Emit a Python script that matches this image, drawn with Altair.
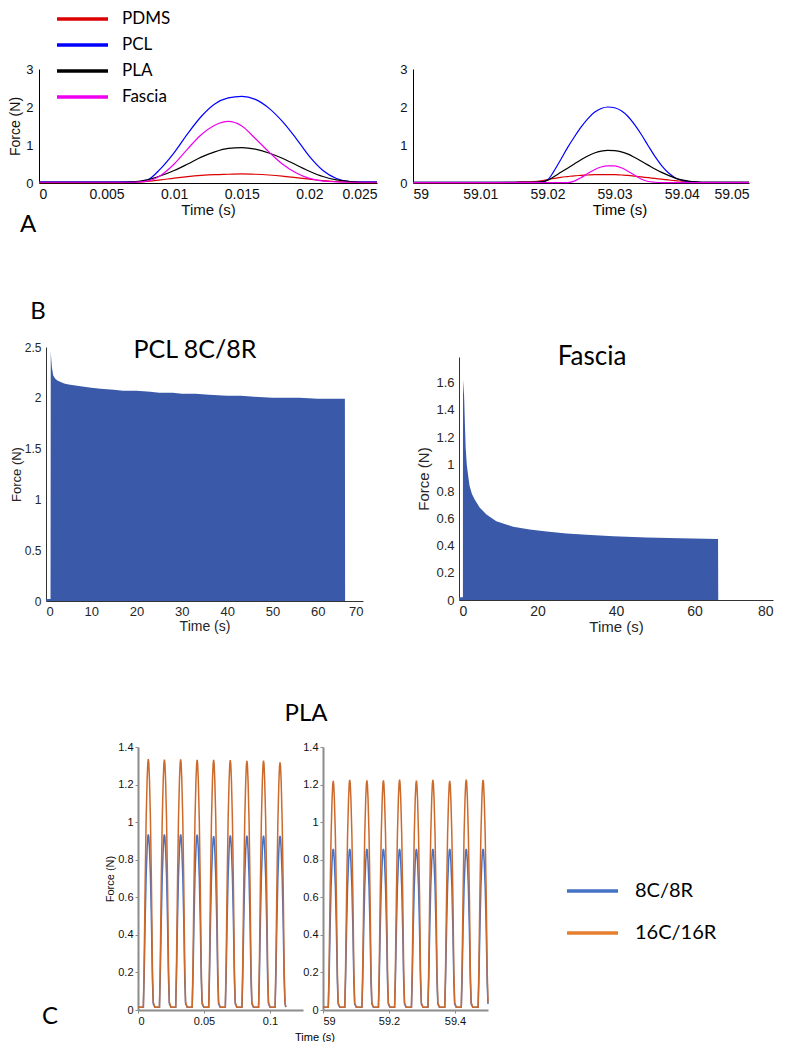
import altair as alt
import pandas as pd

# ---------------- data ----------------
A_SERIES = ["PDMS", "PCL", "PLA", "Fascia"]
A_COLORS = ["#dd0000", "#0000ff", "#000000", "#ee00ee"]

A1_TIME = [0.000, 0.001, 0.002, 0.003, 0.004, 0.005, 0.006, 0.007, 0.008, 0.009,
           0.010, 0.011, 0.012, 0.013, 0.014, 0.015, 0.016, 0.017, 0.018, 0.019,
           0.020, 0.021, 0.022, 0.023, 0.024, 0.025]
A1_PDMS = [0.01, 0.01, 0.01, 0.01, 0.01, 0.01, 0.01, 0.02, 0.04, 0.08, 0.13, 0.17, 0.20,
           0.22, 0.23, 0.24, 0.23, 0.21, 0.18, 0.14, 0.10, 0.06, 0.04, 0.02, 0.01, 0.01]
A1_PCL = [0.03, 0.03, 0.03, 0.03, 0.03, 0.03, 0.03, 0.03, 0.08, 0.38, 0.80, 1.30, 1.75,
          2.08, 2.24, 2.28, 2.20, 1.97, 1.62, 1.18, 0.70, 0.33, 0.12, 0.04, 0.03, 0.03]
A1_PLA = [0.02, 0.02, 0.02, 0.02, 0.02, 0.02, 0.02, 0.03, 0.08, 0.19, 0.33, 0.50, 0.68,
          0.82, 0.91, 0.93, 0.89, 0.79, 0.65, 0.48, 0.31, 0.17, 0.08, 0.04, 0.02, 0.02]
A1_FASCIA = [0.02, 0.02, 0.02, 0.02, 0.02, 0.02, 0.02, 0.02, 0.05, 0.20, 0.50, 0.90, 1.27,
             1.52, 1.62, 1.50, 1.17, 0.82, 0.50, 0.27, 0.12, 0.05, 0.03, 0.02, 0.02, 0.02]

A2_TIME = [59.000, 59.010, 59.015, 59.016, 59.017, 59.018, 59.019, 59.020, 59.021, 59.022,
           59.023, 59.024, 59.025, 59.026, 59.027, 59.028, 59.029, 59.030, 59.031, 59.032,
           59.033, 59.034, 59.035, 59.036, 59.037, 59.038, 59.039, 59.040, 59.041, 59.042,
           59.043, 59.044, 59.045, 59.050]
A2_PDMS = [0.01, 0.01, 0.02, 0.03, 0.03, 0.04, 0.06, 0.09, 0.12, 0.15, 0.17, 0.19, 0.20,
           0.21, 0.22, 0.22, 0.22, 0.22, 0.21, 0.20, 0.18, 0.16, 0.14, 0.12, 0.10, 0.08,
           0.06, 0.05, 0.04, 0.03, 0.02, 0.02, 0.02, 0.02]
A2_PCL = [0.02, 0.02, 0.02, 0.02, 0.02, 0.02, 0.03, 0.08, 0.32, 0.62, 0.93, 1.21, 1.47,
          1.69, 1.86, 1.96, 2.00, 1.98, 1.90, 1.75, 1.53, 1.27, 0.98, 0.70, 0.46, 0.27,
          0.14, 0.07, 0.04, 0.03, 0.02, 0.02, 0.02, 0.02]
A2_PLA = [0.02, 0.02, 0.02, 0.02, 0.02, 0.02, 0.03, 0.07, 0.17, 0.28, 0.39, 0.50, 0.61,
          0.71, 0.79, 0.84, 0.86, 0.85, 0.82, 0.76, 0.67, 0.57, 0.47, 0.37, 0.28, 0.20,
          0.13, 0.08, 0.05, 0.03, 0.02, 0.02, 0.02, 0.02]
A2_FASCIA = [0.01, 0.01, 0.01, 0.01, 0.01, 0.01, 0.01, 0.01, 0.01, 0.01, 0.01, 0.05, 0.14,
             0.25, 0.35, 0.42, 0.45, 0.45, 0.40, 0.31, 0.20, 0.10, 0.04, 0.02, 0.01, 0.01,
             0.01, 0.01, 0.01, 0.01, 0.01, 0.01, 0.01, 0.01]

A1_XTICKS = [0, 0.005, 0.01, 0.015, 0.02, 0.025]
A2_XTICKS = [59, 59.01, 59.02, 59.03, 59.04, 59.05]
A_YTICKS = [0, 1, 2, 3]

B1_TIME = [0.0, 1.0, 1.05, 1.1, 1.3, 1.6, 2.0, 2.5, 3.0, 4.0, 5.0, 6.5, 8.0, 10.0, 12.0, 15.0,
           17.0, 20.0, 23.0, 25.0, 28.0, 30.0, 33.0, 36.0, 40.0, 43.0, 46.0, 50.0, 53.0,
           56.0, 60.0, 63.0, 66.0, 66.05]
B1_FORCE = [0.02, 0.02, 2.46, 2.42, 2.30, 2.22, 2.19, 2.17, 2.16, 2.14, 2.13, 2.12, 2.11,
            2.10, 2.09, 2.08, 2.07, 2.07, 2.06, 2.05, 2.05, 2.04, 2.04, 2.03, 2.02, 2.02,
            2.01, 2.00, 2.00, 2.00, 1.99, 1.99, 1.99, 0.0]
B1_XTICKS = [0, 10, 20, 30, 40, 50, 60, 70]
B1_YTICKS = [0, 0.5, 1, 1.5, 2, 2.5]

B2_TIME = [0.0, 1.0, 1.02, 1.3, 1.5, 1.7, 2.0, 2.4, 2.7, 3.3, 4.0, 5.3, 7.0, 9.5, 13.8,
           18.0, 22.3, 27.4, 32.5, 39.3, 47.8, 56.3, 66.0, 66.05]
B2_FORCE = [0.02, 0.02, 1.62, 1.50, 1.30, 1.12, 0.99, 0.90, 0.84, 0.78, 0.74, 0.68, 0.63,
            0.58, 0.54, 0.52, 0.505, 0.49, 0.48, 0.47, 0.46, 0.455, 0.45, 0.0]
B2_XTICKS = [0, 20, 40, 60, 80]
B2_YTICKS = [0, 0.2, 0.4, 0.6, 0.8, 1, 1.2, 1.4, 1.6]

C_SERIES = ["8C/8R", "16C/16R"]
C_LINE_COLORS = ["#4a72c4", "#cc6a2c"]
C_LEGEND_COLORS = ["#4472c4", "#e67e30"]

# pulse peaks
C1_PEAK_T = [0.0078, 0.0200, 0.0323, 0.0448, 0.0573, 0.0699, 0.0825, 0.0951, 0.1076]
C1_PEAK_8 = [0.935, 0.935, 0.935, 0.933, 0.925, 0.930, 0.928, 0.928, 0.927]
C1_PEAK_16 = [1.335, 1.333, 1.334, 1.332, 1.331, 1.330, 1.326, 1.327, 1.318]
C1_PERIOD = 0.0125
C1_RANGE = [0.0, 0.112]
C2_PEAK_T = [59.031, 59.081, 59.133, 59.183, 59.232, 59.283, 59.333, 59.384, 59.434, 59.485]
C2_PEAK_8 = [0.858, 0.858, 0.857, 0.858, 0.858, 0.857, 0.858, 0.858, 0.857, 0.858]
C2_PEAK_16 = [1.220, 1.225, 1.222, 1.223, 1.226, 1.221, 1.225, 1.220, 1.227, 1.225]
C2_PERIOD = 0.05
C2_RANGE = [59.0, 59.5]
C_BASE = 0.015
# pulse shape (offset in periods, fraction of peak)
PULSE_DT = [-0.30, -0.25, -0.19, -0.13, -0.07, -0.03, 0.0, 0.03, 0.07, 0.13, 0.19, 0.25, 0.30, 0.40]
PULSE_FR = [0.00, 0.18, 0.50, 0.76, 0.92, 0.985, 1.0, 0.985, 0.92, 0.76, 0.50, 0.16, 0.02, 0.0]
C1_XTICKS = [0, 0.05, 0.1]
C2_XTICKS = [59, 59.2, 59.4]
C_YTICKS = [0, 0.2, 0.4, 0.6, 0.8, 1, 1.2, 1.4]

PANEL_LETTERS = ["A", "B", "C"]
PANEL_TITLES = ["PCL 8C/8R", "Fascia", "PLA"]

# ---------------- layout (pixels inside the 770 x 1034 view) ----------------
W, H = 770, 1034
LBL = "'' + datum.value"
AXF = "Liberation Sans"
TXF = "Lato"


def lin(domain, rng):
    return alt.Scale(domain=domain, range=rng, nice=False, zero=False)


def long_df(time, series_vals, names):
    rows = []
    for name, vals in zip(names, series_vals):
        for t, v in zip(time, vals):
            rows.append({"t": t, "f": v, "s": name})
    return pd.DataFrame(rows)


def pulses_df(peak_t, peaks, period, trange, name):
    rows = [{"t": trange[0], "f": C_BASE, "s": name}]
    for tp, pk in zip(peak_t, peaks):
        for dt, fr in zip(PULSE_DT, PULSE_FR):
            t = tp + dt * period
            if trange[0] < t <= trange[1]:
                rows.append({"t": t, "f": C_BASE + fr * (pk - C_BASE), "s": name})
    if rows[-1]["t"] < trange[1]:
        rows.append({"t": trange[1], "f": C_BASE, "s": name})
    return rows


A_AX = dict(domainColor="#000", domainWidth=1, ticks=False, labelFont=AXF,
            labelColor="#111", titleFont=AXF, titleColor="#111", titleFontWeight="normal",
            grid=False)

# ----- panel A -----
a_color = alt.Color("s:N", scale=alt.Scale(domain=A_SERIES, range=A_COLORS), legend=None)
a1 = alt.Chart(long_df(A1_TIME, [A1_PDMS, A1_PCL, A1_PLA, A1_FASCIA], A_SERIES)).mark_line(
    strokeWidth=1.2, interpolate="monotone").encode(
    x=alt.X("t:Q", scale=lin([0, 0.025], [31, 369]),
            axis=alt.Axis(orient="bottom", offset=175 - H, values=A1_XTICKS, labelExpr=LBL,
                          title="Time (s)", labelFontSize=14, labelPadding=4,
                          titleFontSize=15, titlePadding=1, **A_AX)),
    y=alt.Y("f:Q", scale=lin([0, 3], [175, 61]),
            axis=alt.Axis(orient="left", offset=-31, values=A_YTICKS, labelExpr=LBL,
                          title="Force (N)", labelFontSize=13, labelPadding=6,
                          titleFontSize=14, titlePadding=3, **A_AX)),
    color=a_color,
)
a2 = alt.Chart(long_df(A2_TIME, [A2_PDMS, A2_PCL, A2_PLA, A2_FASCIA], A_SERIES)).mark_line(
    strokeWidth=1.2, interpolate="monotone").encode(
    x=alt.X("t:Q", scale=lin([59, 59.05], [405, 741]),
            axis=alt.Axis(orient="bottom", offset=175 - H, values=A2_XTICKS, labelExpr=LBL,
                          title=None, labelFontSize=14, labelPadding=4, **A_AX)),
    y=alt.Y("f:Q", scale=lin([0, 3], [175, 61]),
            axis=alt.Axis(orient="left", offset=-405, values=A_YTICKS, labelExpr=LBL,
                          title=None, labelFontSize=13, labelPadding=6, **A_AX)),
    color=a_color,
)
a_leg_y = alt.Y("s:N", scale=alt.Scale(type="point", domain=A_SERIES, range=[11, 89], padding=0),
                axis=None)
a_leg_df = pd.DataFrame({"s": A_SERIES})
a_leg_rule = alt.Chart(a_leg_df).mark_rule(strokeWidth=3.5).encode(
    x=alt.value(49), x2=alt.value(100), y=a_leg_y, color=a_color)
a_leg_text = alt.Chart(a_leg_df).mark_text(
    align="left", baseline="middle", font=TXF, fontSize=17, color="#000").encode(
    x=alt.value(114), y=a_leg_y, text="s:N")

# ----- panel B -----
B_AX = dict(domainColor="#333", domainWidth=1, ticks=False, labelFont=AXF,
            labelColor="#262626", titleFont=AXF, titleColor="#262626",
            titleFontWeight="normal", grid=False, labelExpr=LBL)
b1_df = pd.DataFrame({"t": B1_TIME, "f": B1_FORCE, "z": [0.0] * len(B1_TIME)})
b1 = alt.Chart(b1_df).mark_area(color="#3a59a8", interpolate="linear").encode(
    x=alt.X("t:Q", scale=lin([0, 70], [38, 355]),
            axis=alt.Axis(orient="bottom", offset=593 - H, values=B1_XTICKS, title="Time (s)",
                          labelFontSize=13, labelPadding=4, titleFontSize=14, titlePadding=1,
                          **B_AX)),
    y=alt.Y("f:Q", scale=lin([0, 2.5], [593, 339]),
            axis=alt.Axis(orient="left", offset=-38, values=B1_YTICKS, title="Force (N)",
                          labelFontSize=12, labelPadding=5, titleFontSize=13, titlePadding=1,
                          **B_AX)),
    y2="z:Q",
)
b2_df = pd.DataFrame({"t": B2_TIME, "f": B2_FORCE, "z": [0.0] * len(B2_TIME)})
b2 = alt.Chart(b2_df).mark_area(color="#3a59a8", interpolate="linear").encode(
    x=alt.X("t:Q", scale=lin([0, 80], [451, 765]),
            axis=alt.Axis(orient="bottom", offset=592 - H, values=B2_XTICKS, title="Time (s)",
                          labelFontSize=14, labelPadding=4, titleFontSize=15, titlePadding=1,
                          **B_AX)),
    y=alt.Y("f:Q", scale=lin([0, 1.79], [592, 349]),
            axis=alt.Axis(orient="left", offset=-451, values=B2_YTICKS, title="Force (N)",
                          labelFontSize=13, labelPadding=5, titleFontSize=15, titlePadding=4,
                          **B_AX)),
    y2="z:Q",
)

# ----- panel C -----
C_AX = dict(domainColor="#8c8c8c", domainWidth=2, tickColor="#8c8c8c", tickSize=3,
            tickWidth=1, labelFont=AXF, labelColor="#111", labelFontSize=11,
            titleFont=AXF, titleColor="#111", titleFontWeight="normal", grid=False,
            labelExpr=LBL)
c_color = alt.Color("s:N", scale=alt.Scale(domain=C_SERIES, range=C_LINE_COLORS), legend=None)
c1_rows = (pulses_df(C1_PEAK_T, C1_PEAK_8, C1_PERIOD, C1_RANGE, C_SERIES[0])
           + pulses_df(C1_PEAK_T, C1_PEAK_16, C1_PERIOD, C1_RANGE, C_SERIES[1]))
c1 = alt.Chart(pd.DataFrame(c1_rows)).mark_line(strokeWidth=1.5).encode(
    x=alt.X("t:Q", scale=lin([0, 0.125], [130, 295]),
            axis=alt.Axis(orient="bottom", offset=1002 - H, values=C1_XTICKS, title=None,
                          labelPadding=2, **C_AX)),
    y=alt.Y("f:Q", scale=lin([0, 1.4], [1002, 739]),
            axis=alt.Axis(orient="left", offset=-130, values=C_YTICKS, title="Force (N)",
                          labelPadding=2, titleFontSize=11, titlePadding=2, **C_AX)),
    color=c_color,
)
c2_rows = (pulses_df(C2_PEAK_T, C2_PEAK_8, C2_PERIOD, C2_RANGE, C_SERIES[0])
           + pulses_df(C2_PEAK_T, C2_PEAK_16, C2_PERIOD, C2_RANGE, C_SERIES[1]))
c2 = alt.Chart(pd.DataFrame(c2_rows)).mark_line(strokeWidth=1.5).encode(
    x=alt.X("t:Q", scale=lin([59, 59.5], [315, 480]),
            axis=alt.Axis(orient="bottom", offset=1002 - H, values=C2_XTICKS, title=None,
                          labelPadding=2, **C_AX)),
    y=alt.Y("f:Q", scale=lin([0, 1.4], [1002, 739]),
            axis=alt.Axis(orient="left", offset=-315, values=C_YTICKS, title=None,
                          labelPadding=2, **C_AX)),
    color=c_color,
)
c_leg_df = pd.DataFrame({"s": C_SERIES})
c_leg_y = alt.Y("s:N", scale=alt.Scale(type="point", domain=C_SERIES, range=[883, 925],
                                       padding=0), axis=None)
c_leg_color = alt.Color("s:N", scale=alt.Scale(domain=C_SERIES, range=C_LEGEND_COLORS),
                        legend=None)
c_leg_rule = alt.Chart(c_leg_df).mark_rule(strokeWidth=3.5).encode(
    x=alt.value(559), x2=alt.value(610), y=c_leg_y, color=c_leg_color)
c_leg_text = alt.Chart(c_leg_df).mark_text(
    align="left", baseline="middle", font=TXF, fontSize=20, color="#000").encode(
    x=alt.value(627), y=c_leg_y, text="s:N")


# ----- free texts -----
def label(text, x, y, size, font=TXF):
    return alt.Chart(pd.DataFrame({"txt": [text]})).mark_text(
        align="center", baseline="middle", font=font, fontSize=size, color="#000").encode(
        x=alt.value(x), y=alt.value(y), text="txt:N")


texts = [
    label(PANEL_LETTERS[0], 20, 217, 24),
    label(PANEL_LETTERS[1], 30, 304, 24),
    label(PANEL_LETTERS[2], 42, 1009, 24),
    label(PANEL_TITLES[0], 187, 342, 25),
    label(PANEL_TITLES[1], 584, 349, 26),
    label(PANEL_TITLES[2], 298, 706, 24),
    label("Time (s)", 612, 202, 15, AXF),
    label("Time (s)", 307, 1030, 11, AXF),
]

chart = alt.layer(
    b1, b2, a1, a2, a_leg_rule, a_leg_text, c1, c2, c_leg_rule, c_leg_text, *texts
).resolve_scale(
    x="independent", y="independent", color="independent"
).resolve_axis(
    x="independent", y="independent"
).properties(
    width=W, height=H, padding=0, autosize=alt.AutoSizeParams(type="none")
).configure_view(stroke=None)

chart.save("out.html", embed_options={"renderer": "svg", "actions": False})
